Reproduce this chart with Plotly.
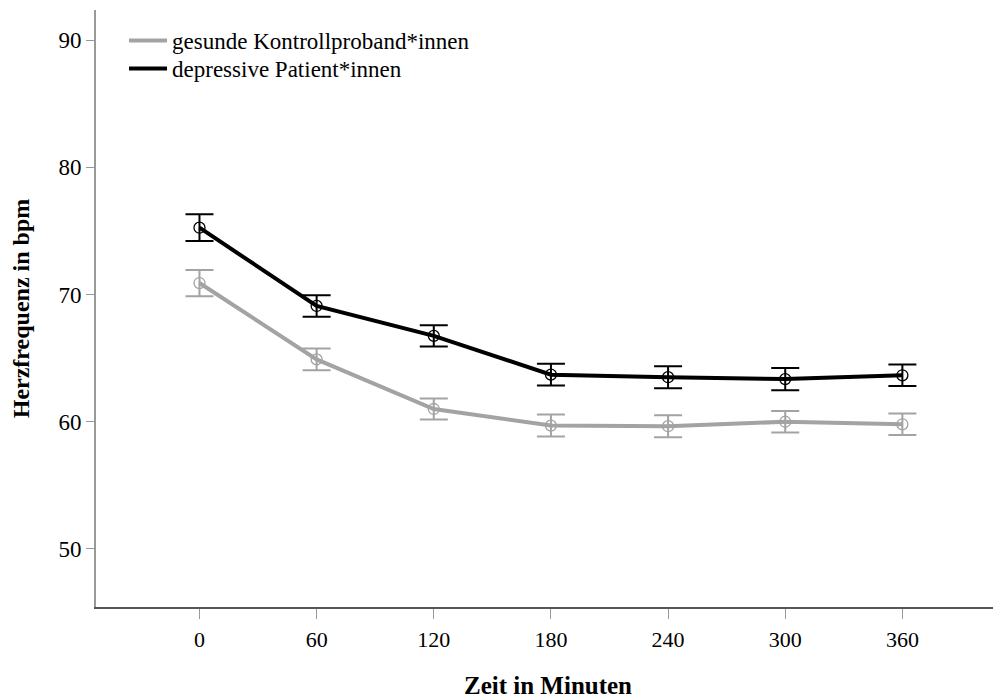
import plotly.graph_objects as go

zeit = [0, 60, 120, 180, 240, 300, 360]
kontroll_mean = [70.9, 64.9, 61.0, 59.7, 59.65, 60.0, 59.8]
kontroll_err = [1.03, 0.85, 0.82, 0.86, 0.86, 0.84, 0.84]
depressiv_mean = [75.25, 69.1, 66.75, 63.7, 63.5, 63.35, 63.65]
depressiv_err = [1.05, 0.85, 0.83, 0.85, 0.87, 0.87, 0.85]
y_ticks = [50, 60, 70, 80, 90]
namen = ["gesunde Kontrollproband*innen", "depressive Patient*innen"]

GREY = "#a3a3a3"
BLACK = "#000000"
FONT = "Liberation Serif"

fig = go.Figure()
for mean, err, col in [(kontroll_mean, kontroll_err, GREY), (depressiv_mean, depressiv_err, BLACK)]:
    fig.add_trace(go.Scatter(
        x=zeit, y=mean, mode="lines+markers", showlegend=False,
        line=dict(color=col, width=4),
        marker=dict(symbol="circle-open", size=11, color=col, line=dict(width=1.3, color=col)),
        error_y=dict(type="data", array=err, visible=True, color=col, thickness=2, width=14),
    ))
for name, col, lg in zip(namen, [GREY, BLACK], ["legend", "legend2"]):
    fig.add_trace(go.Scatter(x=[None], y=[None], mode="lines", name=name,
                             line=dict(color=col, width=4), legend=lg))

leg_common = dict(xanchor="left", yanchor="top", itemwidth=38,
                  font=dict(family=FONT, size=23, color="black"),
                  bgcolor="rgba(0,0,0,0)", borderwidth=0)

fig.update_layout(
    width=993, height=692,
    margin=dict(l=88, r=1, t=2, b=93),
    paper_bgcolor="white", plot_bgcolor="white",
    font=dict(family=FONT, size=18, color="black"),
    legend=dict(x=0.031, y=0.985, **leg_common),
    legend2=dict(x=0.031, y=0.938, **leg_common),
    xaxis=dict(
        range=[-53, 410], tickvals=zeit, ticktext=[str(z) for z in zeit],
        showgrid=False, zeroline=False, automargin=False,
        showline=True, linecolor="#555555", linewidth=1.5,
        ticks="outside", ticklen=10, tickcolor="#999999", tickwidth=1,
        ticklabelstandoff=2,
        tickfont=dict(family=FONT, size=22),
        title=dict(text="<b>Zeit in Minuten</b>", font=dict(family=FONT, size=25), standoff=25),
    ),
    yaxis=dict(
        range=[45.44, 92.36], tickvals=y_ticks,
        showgrid=False, zeroline=False, automargin=False,
        showline=True, linecolor="#999999", linewidth=2,
        ticks="outside", ticklen=8, tickcolor="#999999", tickwidth=1,
        tickfont=dict(family=FONT, size=23),
        title=dict(text="<b>Herzfrequenz in bpm</b>", font=dict(family=FONT, size=24), standoff=34),
    ),
)

fig.write_html("out.html")
